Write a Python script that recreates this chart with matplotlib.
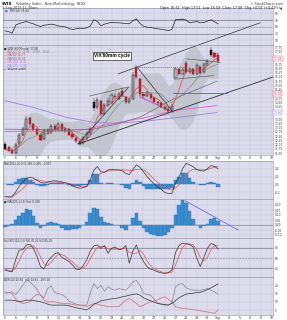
import numpy as np
import pandas as pd
import matplotlib
matplotlib.use("Agg")
import matplotlib.pyplot as plt

# x axis: trading days from Aug 5, three 60min-ish bars per day
DAY_LABELS = ["5", "6", "7", "8", "9", "12", "13", "14", "15", "16", "19", "20", "21",
              "22", "23", "26", "27", "28", "29", "30", "Sep", "4", "5", "6", "9", "10"]

OPENS = [12.04, 11.85, 11.70, 11.50, 12.10, 12.60, 12.90, 13.55, 13.20, 12.90,
         12.60, 12.35, 12.85, 12.75, 13.10, 12.90, 13.20, 12.95, 12.90, 12.65,
         12.40, 12.20, 12.10, 12.40, 12.70, 14.55, 14.20, 14.60, 13.80, 14.35,
         14.50, 14.90, 14.70, 15.20, 14.80, 14.50, 14.70, 16.55, 15.90, 15.00,
         14.90, 15.00, 14.75, 14.55, 14.45, 14.25, 14.10, 14.00, 15.95, 16.45,
         16.20, 16.85, 16.30, 16.45, 16.20, 16.60, 16.30, 16.75, 17.60, 17.40, 17.30]
CLOSES = [11.74, 11.65, 11.50, 12.00, 12.60, 12.90, 13.50, 13.20, 12.90, 12.65,
          12.30, 12.85, 12.75, 13.10, 12.90, 13.25, 12.90, 12.85, 12.60, 12.45,
          12.20, 12.05, 12.40, 12.70, 12.90, 14.15, 14.65, 13.80, 14.35, 14.60,
          14.95, 14.80, 15.00, 14.85, 14.50, 14.65, 16.10, 16.00, 15.00, 14.85,
          15.05, 14.75, 14.55, 14.45, 14.25, 14.10, 14.00, 14.30, 16.50, 16.20,
          16.40, 16.30, 16.50, 16.20, 16.70, 16.25, 16.75, 16.95, 17.30, 17.20, 16.95]
HIGHS = [12.15, 11.95, 11.78, 12.10, 12.70, 13.05, 13.70, 13.65, 13.30, 13.00,
         12.70, 12.95, 13.00, 13.25, 13.20, 13.35, 13.30, 13.05, 13.00, 12.75,
         12.50, 12.25, 12.50, 12.80, 13.05, 14.75, 14.80, 14.65, 14.45, 14.75,
         15.05, 15.05, 15.10, 15.35, 14.85, 14.75, 16.30, 16.70, 15.95, 15.10,
         15.15, 15.05, 14.80, 14.60, 14.50, 14.30, 14.15, 14.40, 16.60, 16.55,
         16.55, 16.95, 16.60, 16.55, 16.80, 16.70, 16.85, 17.05, 17.75, 17.50, 17.40]
LOWS = [11.70, 11.60, 11.45, 11.45, 12.00, 12.50, 12.85, 13.10, 12.80, 12.55,
        12.20, 12.25, 12.60, 12.65, 12.80, 12.80, 12.80, 12.70, 12.50, 12.35,
        12.10, 11.95, 12.00, 12.30, 12.60, 14.00, 14.10, 13.70, 13.75, 14.25,
        14.40, 14.70, 14.65, 14.80, 14.40, 14.40, 14.65, 15.90, 14.90, 14.75,
        14.80, 14.65, 14.45, 14.35, 14.15, 14.00, 13.85, 13.95, 15.85, 16.10,
        16.10, 16.20, 16.20, 16.10, 16.10, 16.15, 16.20, 16.65, 17.20, 17.10, 16.85]

# longer moving averages, read at a few points (day, value)
MA50_T = [0, 5.79, 8.29, 10.49, 12.68, 15.81, 19.87]
MA50_V = [12.92, 12.86, 12.92, 13.22, 13.63, 14.70, 15.74]
MA100_T = [0, 6.73, 9.86, 12.99, 15.81, 19.87]
MA100_V = [12.79, 12.79, 13.22, 13.58, 14.01, 14.31]
MA200_T = [0, 2.66, 5.79, 8.29, 10.49, 13.62, 16.75, 19.87]
MA200_V = [14.60, 14.20, 13.61, 13.32, 13.26, 13.42, 13.65, 13.90]

RSI = [38, 36, 31, 55, 60, 63, 66, 62, 59, 54, 51, 55, 56, 58, 56, 53, 51, 50, 45, 42,
       44, 46, 45, 47, 52, 71, 66, 53, 58, 61, 63, 62, 62, 61, 60, 59, 68, 74, 60, 52,
       49, 48, 46, 44, 43, 41, 39, 42, 71, 72, 73, 70, 62, 64, 66, 62, 63, 67, 71, 65, 59]

MACD = [-0.32, -0.33, -0.33, -0.20, -0.05, 0.06, 0.15, 0.18, 0.16, 0.10,
        0.05, 0.03, 0.05, 0.08, 0.09, 0.08, 0.06, 0.04, 0.01, -0.04,
        -0.08, -0.10, -0.09, -0.06, 0.12, 0.36, 0.46, 0.32, 0.31, 0.37,
        0.38, 0.37, 0.37, 0.35, 0.28, 0.25, 0.38, 0.50, 0.44, 0.32,
        0.20, 0.10, 0.01, -0.07, -0.13, -0.21, -0.24, -0.24, 0.02, 0.18,
        0.40, 0.54, 0.50, 0.45, 0.38, 0.35, 0.34, 0.40, 0.48, 0.46, 0.40]
SIGNAL = [-0.32, -0.32, -0.30, -0.26, -0.19, -0.11, -0.02, 0.06, 0.11, 0.12,
          0.10, 0.08, 0.07, 0.06, 0.06, 0.05, 0.04, 0.03, 0.02, 0.00,
          -0.03, -0.05, -0.06, -0.05, 0.01, 0.10, 0.20, 0.28, 0.31, 0.34,
          0.36, 0.37, 0.37, 0.37, 0.37, 0.36, 0.36, 0.38, 0.39, 0.37,
          0.31, 0.22, 0.13, 0.05, -0.02, -0.08, -0.12, -0.14, -0.10, -0.02,
          0.10, 0.24, 0.34, 0.38, 0.38, 0.37, 0.37, 0.38, 0.41, 0.44, 0.46]

HIST2 = [-0.015, -0.01, 0.01, 0.05, 0.09, 0.12, 0.16, 0.15, 0.09, 0.02,
         -0.03, -0.01, 0.02, 0.03, 0.02, 0.01, -0.03, -0.05, -0.05, -0.04,
         -0.04, -0.03, 0.00, 0.03, 0.12, 0.17, 0.16, 0.08, 0.03, 0.02,
         0.01, 0.00, 0.00, -0.03, -0.05, 0.00, 0.07, 0.12, 0.04, -0.03,
         -0.07, -0.09, -0.10, -0.11, -0.11, -0.10, -0.07, -0.03, 0.10, 0.20,
         0.25, 0.22, 0.14, 0.06, 0.00, -0.03, -0.01, 0.01, 0.06, 0.07, 0.04]

STOCH_K = [15, 12, 10, 45, 73, 74, 88, 90, 78, 55, 25, 18, 40, 52, 62, 66, 52, 46, 40, 30,
           18, 16, 28, 44, 70, 85, 88, 78, 86, 64, 78, 82, 74, 76, 86, 35, 70, 88, 59, 40,
           25, 18, 14, 10, 7, 5, 8, 15, 65, 86, 93, 92, 89, 82, 50, 25, 52, 78, 92, 88, 76]
STOCH_D = [18, 15, 12, 22, 43, 64, 78, 84, 85, 74, 53, 33, 28, 37, 51, 60, 60, 55, 46, 39,
           29, 21, 21, 29, 47, 66, 81, 84, 84, 76, 76, 75, 78, 77, 79, 66, 64, 64, 72, 62,
           41, 28, 19, 14, 10, 7, 7, 9, 29, 55, 81, 90, 91, 88, 74, 52, 42, 52, 74, 86, 85]

ADX = [11, 11, 11, 10.6, 10, 10.4, 11, 11, 10.8, 10.4, 10, 9.4, 8.6, 8, 8, 8, 8, 8, 7.6, 7,
       6.4, 6, 5.6, 5, 6.4, 8.4, 9.4, 10.6, 11, 11.4, 11.8, 12, 12.4, 13, 13.4, 14, 14.4, 14.8,
       14, 12.4, 11.4, 10.6, 9.8, 9, 8.6, 8.4, 8, 9, 10.6, 12.4, 13.6, 14.6, 15, 15.2, 15.6,
       15.8, 16.4, 17.4, 18.4, 19.6, 20.8]
PLUS_DI = [15, 15.6, 16, 14.4, 17, 20, 23, 22, 20, 17.6, 14, 12.4, 18, 19.6, 15.6, 15, 14.4,
           13, 10.4, 9.4, 8.6, 8, 8, 8, 15, 21, 18, 20, 16.4, 19, 17.6, 17, 18, 17.6, 17, 19,
           22, 23, 20, 15, 14.4, 14, 11.6, 9, 8.6, 8, 8, 9.4, 19, 20.6, 21, 18.4, 17.6, 17, 17,
           17, 17.4, 18, 17, 16, 14.6]
MINUS_DI = [16, 15.6, 15, 11.6, 10, 9, 9.4, 10, 13, 14.4, 14, 11, 10, 10, 10, 9.4, 9, 9, 8.8,
            8.4, 8, 8, 7.6, 7, 8, 9, 8.6, 8, 7.6, 7, 7, 7, 7, 9, 11, 12, 10.6, 9, 7, 8, 9, 10,
            10.6, 11.2, 12.4, 13, 11.6, 10, 7, 6.4, 6, 5.8, 5.6, 5.2, 5, 4.6, 4.2, 3.8, 3.4, 3, 5]

# current values shown in boxes on the price scale
PRICE_TAGS = [(17.08, "#e03050"), (15.00, "#e03050"), (13.90, "#8a6ae0")]

BG = "#dcdcec"
GRID = "#c6c6da"
RED = "#e0202a"
BLUE = "#3a8fd0"

t = np.arange(len(CLOSES)) / 3.0
close = pd.Series(CLOSES)
opens = np.array(OPENS)
closes = np.array(CLOSES)
mid = close.rolling(9, min_periods=2).mean().bfill()
sd = close.rolling(9, min_periods=2).std().bfill()
upper = (mid + 2 * sd).rolling(3, min_periods=1, center=True).mean()
lower = (mid - 2 * sd).rolling(3, min_periods=1, center=True).mean()
ma10 = close.rolling(4, min_periods=1).mean()

fig = plt.figure(figsize=(2.87, 3.2), dpi=100)


def panel(top, bottom):
    return fig.add_axes([3 / 287, 1 - bottom / 320, 270 / 287, (bottom - top) / 320])


def style(ax, ylim, yticks, fmt, xlabels=False, skip=()):
    ax.set_facecolor(BG)
    ax.set_xlim(-0.19, 25.16)
    ax.set_ylim(*ylim)
    ax.set_xticks(range(len(DAY_LABELS)))
    ax.set_xticklabels(DAY_LABELS)
    ax.set_yticks(yticks)
    labels = []
    for v in yticks:
        near = any(abs(v - s) < 0.2 for s in skip)
        labels.append("" if near else fmt % v)
    ax.set_yticklabels(labels)
    ax.yaxis.tick_right()
    ax.tick_params(length=0, labelsize=2.1, pad=1, colors="#333340")
    ax.tick_params(axis="x", labelbottom=xlabels, labelsize=2.3, pad=0.8)
    ax.grid(True, color=GRID, lw=0.35)
    ax.set_axisbelow(True)
    for s in ax.spines.values():
        s.set_color("#8c8ca0")
        s.set_linewidth(0.4)


ax_rsi = panel(8, 45)
ax_px = panel(45, 155)
ax_macd = panel(161, 199)
ax_hist = panel(199, 238)
ax_sto = panel(238, 277)
ax_adx = panel(277, 315)

# header
fig.text(0.007, 0.995, "$VIX", fontsize=2.9, fontweight="bold", va="top")
fig.text(0.055, 0.995, "Volatility Index - New Methodology  INDX", fontsize=2.4, va="top", color="#333")
fig.text(0.985, 0.995, "\u00a9 StockCharts.com", fontsize=2.4, va="top", ha="right", color="#333")
fig.text(0.007, 0.982, "3-Sep-2013 11:30am", fontsize=2.4, va="top", color="#333")
fig.text(0.985, 0.982, "Open 16.61  High 17.51  Low 16.59  Close 17.08  Chg +0.07 (+0.41%)\u25b2",
         fontsize=2.4, va="top", ha="right", color="#222")

# RSI
rsi = np.array(RSI)
style(ax_rsi, (-4, 106), [10, 30, 50, 70, 90], "%d")
ax_rsi.axhline(70, color="#7c7c90", lw=0.5)
ax_rsi.axhline(30, color="#7c7c90", lw=0.5)
ax_rsi.axhline(50, color="#7c7c90", lw=0.4, ls=(0, (3, 2)))
ax_rsi.fill_between(t, rsi, 70, where=rsi > 70, color=BLUE, lw=0, interpolate=True)
ax_rsi.plot(t, rsi, color="#222", lw=0.5)
ax_rsi.text(0.005, 0.97, "\u25a0", color=BLUE, fontsize=2.2, transform=ax_rsi.transAxes, va="top")
ax_rsi.text(0.025, 0.97, "RSI(14) 59.44", fontsize=2.0, transform=ax_rsi.transAxes, va="top", color="#333")

# price panel
style(ax_px, (11.39, 17.89), list(np.arange(11.5, 17.9, 0.25)), "%.2f", xlabels=True,
      skip=[v for v, _ in PRICE_TAGS])
ax_px.fill_between(t, lower, upper, color="#bec1ca", alpha=0.8, lw=0)
ax_px.plot(t, mid, color="#8a8a8a", lw=0.5)
ax_px.plot(MA200_T, MA200_V, color="#9b7fe0", lw=0.6)
ax_px.plot(MA100_T, MA100_V, color="#e060d8", lw=0.6)
ax_px.plot(MA50_T, MA50_V, color="#707070", lw=0.5)
ax_px.plot(t, ma10, color="#e8404a", lw=0.5)

# annotation lines drawn on the chart
ax_px.plot([10.61, 23.94], [16.18, 19.20], color="#303030", lw=0.5, clip_on=False)
ax_px.plot([6.85, 25.16], [12.04, 16.00], color="#303030", lw=0.6)
ax_px.plot([6.85, 11.58], [12.04, 15.39], color="#303030", lw=0.5)
ax_px.plot([12.39, 15.77], [16.59, 13.93], color="#303030", lw=0.5)
ax_px.plot([12.68, 15.77], [14.82, 13.93], color="#606060", lw=0.5)
ax_px.plot([12.68, 14.3], [14.82, 14.36], color="#e060d8", lw=0.9)
ax_px.plot([7.98, 11.55], [14.88, 15.41], color="#606060", lw=0.5)
ax_px.plot([17.06, 20.19], [17.07, 16.87], color="#606060", lw=0.5)
ax_px.plot([16.12, 19.56], [15.88, 16.08], color="#606060", lw=0.5)
ax_px.plot([12.36, 17.06], [16.61, 16.61], color="#6a6af0", lw=0.6, ls=(0, (1.5, 1)))
ax_px.plot([15.77, 20.85], [15.05, 15.05], color="#5a5ae0", lw=0.6)

# candles
prev = np.concatenate([[closes[0]], closes[:-1]])
ax_px.vlines(t, LOWS, HIGHS, color="#222", lw=0.35)
for i in range(len(t)):
    col = RED if closes[i] < prev[i] else "#111"
    face = col if closes[i] < opens[i] else BG
    lo, hi = min(opens[i], closes[i]), max(opens[i], closes[i])
    ax_px.bar(t[i], max(hi - lo, 0.03), bottom=lo, width=0.2, color=face, edgecolor=col, lw=0.35)

ax_px.text(10.05, 17.24, "VIX'60min cycle", ha="center", va="center", fontsize=3.4,
           family="Liberation Sans", fontweight="bold",
           bbox=dict(facecolor="white", edgecolor="black", lw=0.4, pad=0.8))

legend = [("\u25a0 $VIX (60 Minute) 17.08", "#222"),
          ("\u2014 BB(20,2.0) 15.95 - 17.69 - 14.21", "#777"),
          ("\u2014 MA(10) 16.77", "#e0303a"),
          ("\u2014 MA(50) 15.74", "#666"),
          ("\u2014 MA(100) 14.31", "#e060d8"),
          ("\u2014 MA(200) 13.90", "#9b7fe0"),
          ("\u2014 Volume undef", "#222")]
for k, (txt, c) in enumerate(legend):
    ax_px.text(0.005, 0.99 - k * 0.032, txt, fontsize=1.9, color=c, va="top",
               transform=ax_px.transAxes)

for val, ec in PRICE_TAGS:
    ax_px.text(1.003, val, "%.2f" % val, fontsize=2.1, va="center", ha="left",
               transform=ax_px.get_yaxis_transform(), color=ec,
               bbox=dict(facecolor="white", edgecolor=ec, lw=0.3, pad=0.3))

# MACD
macd = np.array(MACD)
sig = np.array(SIGNAL)
style(ax_macd, (-0.38, 0.6), [-0.2, 0.0, 0.2, 0.4], "%.1f")
ax_macd.bar(t, macd - sig, width=1 / 3, color=BLUE, edgecolor="#2a6aa8", lw=0.25)
ax_macd.plot(t, sig, color="#e8505a", lw=0.5)
ax_macd.plot(t, macd, color="#333", lw=0.5)
ax_macd.text(0.005, 0.97, "MACD(12,26,9) 0.398, 0.455, -0.057", fontsize=1.9, va="top",
             transform=ax_macd.transAxes, color="#333")

# second histogram
style(ax_hist, (-0.13, 0.26), [-0.1, -0.05, 0.0, 0.05, 0.1, 0.15, 0.2], "%.2f")
ax_hist.bar(t, HIST2, width=1 / 3, color=BLUE, edgecolor="#2a6aa8", lw=0.25)
ax_hist.axhline(0, color="#7c7c90", lw=0.4)
ax_hist.plot([16.9, 21.88], [0.243, -0.05], color="#6a6af0", lw=0.6)
ax_hist.text(0.005, 0.97, "\u25a0 MACD(5,13,5) Hist 0.038", fontsize=1.9, va="top",
             transform=ax_hist.transAxes, color="#333")

# full stochastics
style(ax_sto, (-5, 108), [20, 50, 80], "%d")
ax_sto.axhline(80, color="#7c7c90", lw=0.5)
ax_sto.axhline(20, color="#7c7c90", lw=0.5)
ax_sto.axhline(50, color="#7c7c90", lw=0.4, ls=(0, (3, 2)))
ax_sto.plot(t, STOCH_D, color="#e8505a", lw=0.5)
ax_sto.plot(t, STOCH_K, color="#333", lw=0.5)
ax_sto.text(0.005, 0.97, "Full STO(14,3,3) %K 76.25 %D 85.19", fontsize=1.9, va="top",
            transform=ax_sto.transAxes, color="#333")

# ADX
style(ax_adx, (2, 25), [5, 10, 15, 20], "%d", xlabels=True)
ax_adx.plot(t, MINUS_DI, color="#d06878", lw=0.5)
ax_adx.plot(t, PLUS_DI, color="#858590", lw=0.5)
ax_adx.plot(t, ADX, color="#333", lw=0.5)
ax_adx.text(0.005, 0.97, "ADX(14) 20.84  +DI 14.61  -DI 5.02", fontsize=1.9, va="top",
            transform=ax_adx.transAxes, color="#333")

fig.savefig("out.png", dpi=100, facecolor="white")
